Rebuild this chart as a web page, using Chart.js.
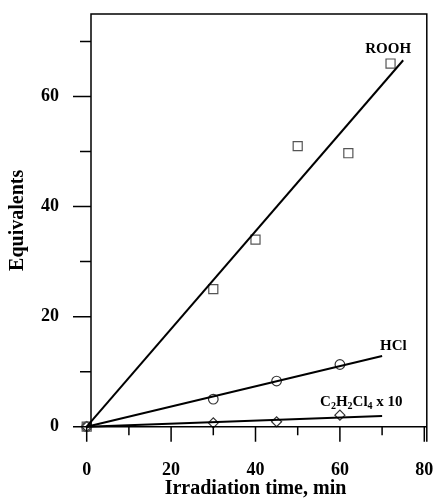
<!DOCTYPE html>
<html><head><meta charset="utf-8">
<script src="https://cdn.jsdelivr.net/npm/chart.js@4/dist/chart.umd.min.js"></script>
<style>html,body{margin:0;padding:0;background:#fff;} canvas{display:block;}</style>
</head><body>
<canvas id="c" width="436" height="499"></canvas>
<script>
// ---- data ----
const roohTime = [0, 30, 40, 50, 62, 72];
const roohValues = [0, 25, 34, 51, 49.7, 66];
const hclTime = [0, 30, 45, 60];
const hclValues = [0, 5, 8.3, 11.3];
const c2Time = [0, 30, 45, 60];
const c2Values = [0, 0.7, 0.9, 2.1];
const roohFitTime = [0, 75];
const roohFitValues = [0, 66.6];
const hclFitTime = [0, 70];
const hclFitValues = [0, 12.85];
const c2FitTime = [0, 70];
const c2FitValues = [0, 1.95];
const xMajorTicks = [0, 20, 40, 60, 80];
const xMinorTicks = [10, 30, 50, 70];
const yMajorTicks = [0, 20, 40, 60];
const yMinorTicks = [10, 30, 50, 70];

const FONT = "'Liberation Serif', 'Times New Roman', serif";
const pts = (xs, ys) => xs.map((x, i) => ({x: x, y: ys[i]}));

const framePlugin = {
  id: 'frame',
  afterDraw(chart) {
    const ctx = chart.ctx;
    const xs = chart.scales.x, ys = chart.scales.y;
    const ca = chart.chartArea;
    const y0 = ys.getPixelForValue(0);
    const left = ca.left + 4.3, right = ca.right + 2.5, top = ca.top;
    ctx.save();
    ctx.strokeStyle = '#000';
    ctx.lineWidth = 1.5;
    ctx.lineCap = 'butt';
    ctx.beginPath();
    // frame
    ctx.moveTo(left, y0); ctx.lineTo(left, top); ctx.lineTo(right, top); ctx.lineTo(right, y0 + 15);
    // bottom axis line (with y=0 major tick extension)
    ctx.moveTo(left - 18, y0); ctx.lineTo(right, y0);
    // x ticks
    xMajorTicks.forEach(v => { const p = xs.getPixelForValue(v); ctx.moveTo(p, y0); ctx.lineTo(p, y0 + 15); });
    xMinorTicks.forEach(v => { const p = xs.getPixelForValue(v); ctx.moveTo(p, y0); ctx.lineTo(p, y0 + 8.5); });
    // y ticks
    yMajorTicks.forEach(v => { const p = ys.getPixelForValue(v); ctx.moveTo(left, p); ctx.lineTo(left - 18, p); });
    yMinorTicks.forEach(v => { const p = ys.getPixelForValue(v); ctx.moveTo(left, p); ctx.lineTo(left - 11, p); });
    ctx.stroke();

    // series labels
    ctx.fillStyle = '#000';
    ctx.textBaseline = 'alphabetic';
    ctx.textAlign = 'left';
    const big = 'bold 15px ' + FONT, small = 'bold 10px ' + FONT;
    ctx.font = big;
    ctx.fillText('ROOH', xs.getPixelForValue(66), ys.getPixelForValue(68));
    ctx.fillText('HCl', xs.getPixelForValue(69.5), ys.getPixelForValue(13.95));
    // C2H2Cl4 x 10 with subscripts
    let cx = xs.getPixelForValue(55.3);
    const cy = ys.getPixelForValue(3.8);
    const parts = [['C', 0], ['2', 1], ['H', 0], ['2', 1], ['Cl', 0], ['4', 1], [' x 10', 0]];
    parts.forEach(([t, sub]) => {
      ctx.font = sub ? small : big;
      ctx.fillText(t, cx, cy + (sub ? 3 : 0));
      cx += ctx.measureText(t).width;
    });
    ctx.restore();
  }
};

const noPad = s => { s.paddingTop = 0; s.paddingBottom = 0; s.paddingLeft = 0; s.paddingRight = 0; };

new Chart(document.getElementById('c'), {
  type: 'scatter',
  data: {
    datasets: [
      {label: 'ROOH fit', data: pts(roohFitTime, roohFitValues), showLine: true, borderColor: '#000', borderWidth: 2, pointRadius: 0},
      {label: 'HCl fit', data: pts(hclFitTime, hclFitValues), showLine: true, borderColor: '#000', borderWidth: 2, pointRadius: 0},
      {label: 'C2H2Cl4 fit', data: pts(c2FitTime, c2FitValues), showLine: true, borderColor: '#000', borderWidth: 2, pointRadius: 0},
      {label: 'ROOH', data: pts(roohTime, roohValues), pointStyle: 'rect', pointRadius: 6.4, borderColor: '#555', backgroundColor: 'rgba(0,0,0,0)', borderWidth: 1.2},
      {label: 'HCl', data: pts(hclTime, hclValues), pointStyle: 'circle', pointRadius: 4.8, borderColor: '#333', backgroundColor: 'rgba(0,0,0,0)', borderWidth: 1.2},
      {label: 'C2H2Cl4 x 10', data: pts(c2Time, c2Values), pointStyle: 'rectRot', pointRadius: 5, borderColor: '#333', backgroundColor: 'rgba(0,0,0,0)', borderWidth: 1.2}
    ]
  },
  options: {
    responsive: false,
    animation: false,
    events: [],
    clip: false,
    layout: {autoPadding: false, padding: {top: 14, right: 11.7, left: 0, bottom: 0}},
    plugins: {legend: {display: false}, tooltip: {enabled: false}},
    scales: {
      x: {
        type: 'linear', min: 0, max: 80,
        grid: {display: false, drawTicks: false},
        border: {display: false},
        afterBuildTicks: s => { s.ticks = xMajorTicks.map(v => ({value: v})); },
        afterFit: s => { s.height = 72.3; noPad(s); },
        ticks: {color: '#000', padding: 33, autoSkip: false, maxRotation: 0, font: {family: FONT, size: 18, weight: 'bold'}},
        title: {display: true, text: 'Irradiation time, min', color: '#000', padding: {top: 0, bottom: 0}, font: {family: FONT, size: 20, weight: 'bold', lineHeight: 1}}
      },
      y: {
        type: 'linear', min: 0, max: 75,
        grid: {display: false, drawTicks: false},
        border: {display: false},
        afterBuildTicks: s => { s.ticks = yMajorTicks.map(v => ({value: v})); },
        afterFit: s => { s.width = 86.7; noPad(s); },
        ticks: {color: '#000', padding: 27.7, autoSkip: false, font: {family: FONT, size: 18, weight: 'bold'}},
        title: {display: true, text: 'Equivalents', color: '#000', padding: {top: 8, bottom: 0}, font: {family: FONT, size: 20, weight: 'bold', lineHeight: 1}}
      }
    }
  },
  plugins: [framePlugin]
});
</script>
</body></html>
